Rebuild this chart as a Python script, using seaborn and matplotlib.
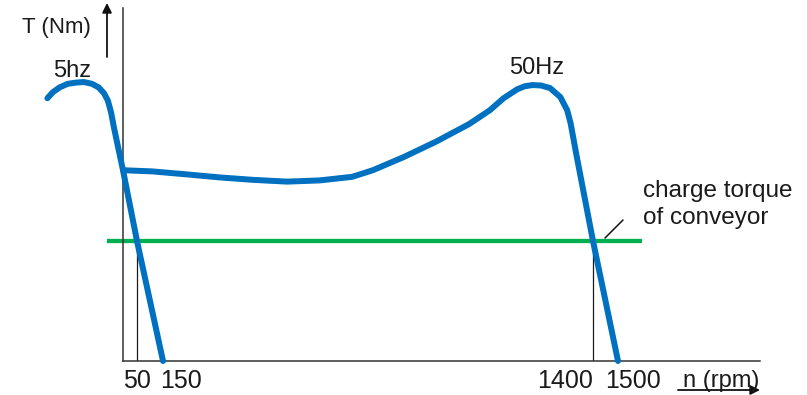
import numpy as np
import matplotlib
matplotlib.use("Agg")
import matplotlib.pyplot as plt
from matplotlib.transforms import ScaledTranslation
import seaborn as sns

# Torque-speed characteristics: speed in rpm, torque in % of rated torque
speed_5hz = [-280, -260, -235, -205, -175, -145, -115, -90, -70, -56, -44, -33, -18, 0, 50, 150]
torque_5hz = [219, 224, 228, 231, 232, 232.5, 231, 228, 223, 217, 207, 194, 178, 159, 100, 0]

speed_50hz = [0, 110, 220, 315, 410, 510, 605, 700, 760, 850, 945, 1040, 1100, 1140,
              1180, 1202, 1225, 1249, 1275, 1305, 1325, 1335, 1351, 1400, 1500]
torque_50hz = [159, 158, 155.5, 153, 151, 149.5, 150.5, 153.5, 159, 170, 183, 197.5, 209, 219,
               226.5, 229, 230, 229.6, 227.5, 220, 209, 198, 173, 100, 0]

# Conveyor load torque
load_speed = [-60, 1595]
load_torque = [100, 100]

# Operating points where the motor curves meet the load
operating_speeds = [50, 1400]

tick_speeds = [50, 150, 1400, 1500]
tick_labels = ["50", "150", "1400", "1500"]

sns.set_style("white")
plt.rcParams["font.family"] = ["Liberation Sans", "DejaVu Sans"]

BLUE = "#0070C0"
GREEN = "#00B050"
INK = "#1a1a1a"

# Schematic (piecewise linear) speed axis
_rpm_knots = [-1000, 0, 50, 150, 1400, 1500, 3000]
_pos_knots = [-270, 0, 14, 40, 470, 495, 870]


def _fwd(x):
    return np.interp(x, _rpm_knots, _pos_knots)


def _inv(p):
    return np.interp(p, _pos_knots, _rpm_knots)


W, H = 807, 395
fig = plt.figure(figsize=(W / 100, H / 100), dpi=100)
ax = fig.add_axes([123 / W, 34 / H, (760 - 123) / W, (361 - 8) / H])
ax.set_xscale("function", functions=(_fwd, _inv))
ax.set_xlim(0, 2068)
ax.set_ylim(0, 294.2)

# Drop lines at the operating points
ax.vlines(operating_speeds, 0, load_torque[0], color=INK, lw=0.9, zorder=1)

# Load line
sns.lineplot(x=load_speed, y=load_torque, color=GREEN, lw=3.1, ax=ax,
             clip_on=False, zorder=2, solid_capstyle="butt")

# Motor curves at 5 Hz and 50 Hz
for spd, trq in [(speed_5hz, torque_5hz), (speed_50hz, torque_50hz)]:
    sns.lineplot(x=spd, y=trq, sort=False, estimator=None, color=BLUE, lw=4.3,
                 ax=ax, clip_on=False, zorder=3,
                 solid_capstyle="round", solid_joinstyle="round")

ax.set_xlabel("")
ax.set_ylabel("")
sns.despine(ax=ax)
for side in ("left", "bottom"):
    ax.spines[side].set_color("#333333")
    ax.spines[side].set_linewidth(1.1)

ax.set_yticks([])
ax.set_xticks(tick_speeds, tick_labels)
ax.tick_params(axis="x", length=0, pad=5.5, labelsize=18, labelcolor=INK)
shifts = {"50": (0, "center"), "150": (-3, "left"), "1400": (0, "right"), "1500": (-13, "left")}
for lab in ax.get_xticklabels():
    dx, ha = shifts[lab.get_text()]
    lab.set_ha(ha)
    lab.set_transform(lab.get_transform() + ScaledTranslation(dx / 100, 0, fig.dpi_scale_trans))

# Curve labels
ax.text(-187, 236.7, "5hz", ha="center", va="baseline", fontsize=17, color=INK)
ax.text(1237, 239, "50Hz", ha="center", va="baseline", fontsize=17, color=INK)

# Axis titles with arrows
fig.text(22 / W, (H - 33) / H, "T (Nm)", ha="left", va="baseline", fontsize=16, color=INK)
ax.annotate("", xy=(107, H - 3), xytext=(107, H - 57), xycoords="figure pixels",
            arrowprops=dict(arrowstyle="-|>", color="#111111", lw=1.3,
                            mutation_scale=14, shrinkA=0, shrinkB=0))

fig.text(683 / W, (H - 387) / H, "n (rpm)", ha="left", va="baseline", fontsize=17, color=INK)
ax.annotate("", xy=(760, H - 390), xytext=(678, H - 390), xycoords="figure pixels",
            arrowprops=dict(arrowstyle="-|>", color="#111111", lw=1.3,
                            mutation_scale=14, shrinkA=0, shrinkB=0))

# Load annotation
fig.text(643 / W, (H - 196.7) / H, "charge torque", ha="left", va="baseline", fontsize=17.5, color=INK)
fig.text(643 / W, (H - 224) / H, "of conveyor", ha="left", va="baseline", fontsize=17.5, color=INK)
ax.annotate("", xy=(605, H - 238), xytext=(623, H - 220), xycoords="figure pixels",
            arrowprops=dict(arrowstyle="-", color="#111111", lw=1.1, shrinkA=0, shrinkB=0))

fig.savefig("out.png", dpi=100)
